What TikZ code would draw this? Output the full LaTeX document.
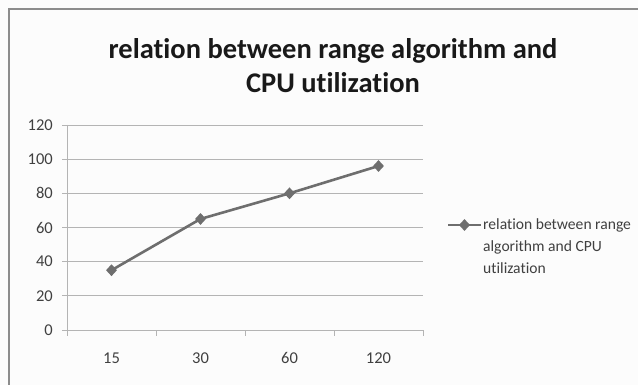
\documentclass[tikz,border=0pt]{standalone}
\usepackage{fontspec}
\setmainfont{Carlito}[Ligatures=NoCommon]
\usetikzlibrary{shapes.geometric}
\definecolor{frame}{HTML}{8C8C8C}
\definecolor{grid}{HTML}{B4B4B4}
\definecolor{series}{HTML}{6E6E6E}
\definecolor{txt}{HTML}{404040}
\tikzset{
  gridline/.style={draw=grid, line width=0.9pt},
  axisline/.style={draw=grid, line width=1pt},
  ylab/.style={anchor=east, inner sep=0pt, font=\fontsize{16.5}{18}\selectfont, text=txt},
  xlab/.style={anchor=center, inner sep=0pt, font=\fontsize{16.5}{18}\selectfont, text=txt},
  seriesline/.style={draw=series, line width=2.6pt, line join=round},
  marker/.style={diamond, fill=series, inner sep=0pt, minimum width=11pt, minimum height=12pt},
  titletext/.style={anchor=base, inner sep=0pt, font=\fontsize{28.5}{34}\selectfont\bfseries, text=black!90},
}
\begin{document}
\begin{tikzpicture}[x=1pt,y=-1pt]
\useasboundingbox (0,0) rectangle (638,385);
\fill[white!99!black] (0,0) rectangle (638,385);
% chart frame
\draw[frame, line width=1.2pt] (9,385) -- (9,9) -- (638,9);
% title
\node[titletext] (title1) at (333,59) {relation between range algorithm and};
\node[titletext] (title2) at (333,93) {CPU utilization};
% grid
\foreach \v in {20,40,...,120} {
  \draw[gridline] (62,{330-\v*1.70833}) -- (423,{330-\v*1.70833});
}
% axes
\draw[axisline] (67,125) -- (67,330);
\draw[axisline] (62,330) -- (423,330);
\foreach \x in {67,156,245,334,423} { \draw[axisline] (\x,330) -- (\x,336); }
% y labels
\foreach \v in {0,20,...,120} {
  \node[ylab] (y\v) at (53,{330-\v*1.70833}) {\v};
}
% x labels
\node[xlab] (x15) at (111.5,358) {15};
\node[xlab] (x30) at (200.5,358) {30};
\node[xlab] (x60) at (289.5,358) {60};
\node[xlab] (x120) at (378.5,358) {120};
% data
\coordinate (p1) at (111.5,{330-35*1.70833});
\coordinate (p2) at (200.5,{330-65*1.70833});
\coordinate (p3) at (289.5,{330-80*1.70833});
\coordinate (p4) at (378.5,{330-96*1.70833});
\draw[seriesline] (p1) -- (p2) -- (p3) -- (p4);
\foreach \p in {p1,p2,p3,p4} { \node[marker] (m\p) at (\p) {}; }
% legend
\coordinate (la) at (448,225);
\coordinate (lb) at (481,225);
\draw[seriesline] (la) -- (lb);
\node[marker] (lm) at (464.5,225) {};
\node[anchor=north west, inner sep=0pt, align=left, font=\fontsize{15.6}{22}\selectfont, text=txt] (legend) at (483,218.5)
  {relation between range\\algorithm and CPU\\utilization};
\end{tikzpicture}
\end{document}
